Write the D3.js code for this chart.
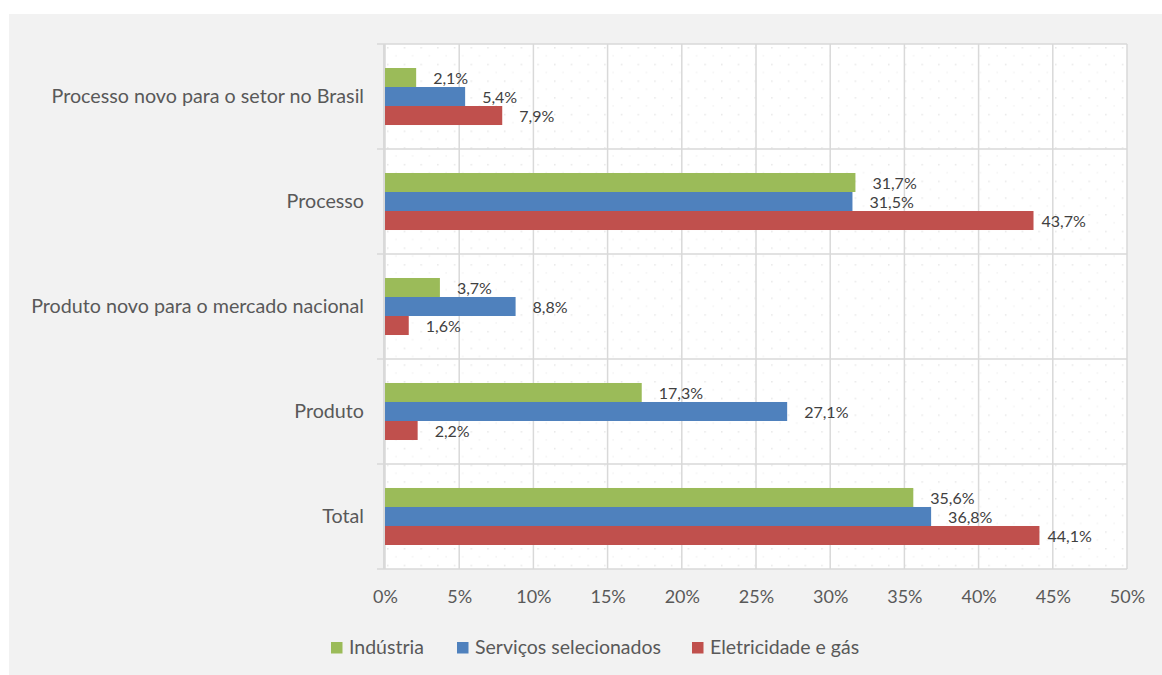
<!DOCTYPE html>
<html><head><meta charset="utf-8">
<script src="https://cdn.jsdelivr.net/npm/d3@7"></script>
<style>
body{margin:0;background:#fff;}
svg{display:block;}
</style></head>
<body><svg id="c" width="1162" height="675"></svg>
<script>
const categories = ["Processo novo para o setor no Brasil","Processo","Produto novo para o mercado nacional","Produto","Total"];
const seriesNames = ["Indústria","Serviços selecionados","Eletricidade e gás"];
const industria = [2.1, 31.7, 3.7, 17.3, 35.6];
const servicos = [5.4, 31.5, 8.8, 27.1, 36.8];
const eletricidade = [7.9, 43.7, 1.6, 2.2, 44.1];
const tickValues = [0,5,10,15,20,25,30,35,40,45,50];
const colors = ["#9bbb59","#4f81bd","#c0504d"];
const seriesValues = [industria, servicos, eletricidade];

const svg = d3.select("#c");
const FONT = "Lato, 'Open Sans', sans-serif";
svg.append("rect").attr("x",9).attr("y",14).attr("width",1153).attr("height",661).attr("fill","#f2f2f2");

const L=385,R=1127,T=44,B=569;
const x = d3.scaleLinear().domain([0,50]).range([L,R]);
const y = d3.scaleBand().domain(categories).range([T,B]).paddingInner(0.457).paddingOuter(0.2286);
const ys = d3.scaleBand().domain(seriesNames).range([0,y.bandwidth()]);

const defs = svg.append("defs");
const pat = defs.append("pattern").attr("id","dots").attr("patternUnits","userSpaceOnUse")
  .attr("width",16.7).attr("height",16.7).attr("x",L+2).attr("y",T+3);
pat.append("rect").attr("width",16.7).attr("height",16.7).attr("fill","#fff");
pat.append("rect").attr("x",0).attr("y",0).attr("width",1.5).attr("height",1.5).attr("fill","#e8e8e8");
pat.append("rect").attr("x",8.3).attr("y",8.3).attr("width",1.5).attr("height",1).attr("fill","#eeeeee");
svg.append("rect").attr("x",L).attr("y",T).attr("width",R-L).attr("height",B-T).attr("fill","url(#dots)");

// vertical gridlines
svg.append("g").selectAll("line").data(tickValues).join("line")
  .attr("x1",d=>x(d)).attr("x2",d=>x(d)).attr("y1",T).attr("y2",B)
  .attr("stroke","#d9d9d9").attr("stroke-width",1.5);
// horizontal category lines
const bounds = d3.range(categories.length+1).map(i=>T+i*y.step());
svg.append("g").selectAll("line").data(bounds).join("line")
  .attr("x1",L-8).attr("x2",R).attr("y1",d=>d).attr("y2",d=>d)
  .attr("stroke","#d9d9d9").attr("stroke-width",1.5);
svg.append("line").attr("x1",L-1).attr("x2",L-1).attr("y1",T).attr("y2",B).attr("stroke","#d9d9d9").attr("stroke-width",2);

// bars
seriesNames.forEach((s,si)=>{
  const g = svg.append("g");
  const vals = seriesValues[si];
  g.selectAll("rect").data(categories).join("rect")
    .attr("x",L).attr("y",(c)=>y(c)+ys(s)).attr("width",(c,i)=>x(vals[i])-L)
    .attr("height",ys.bandwidth()).attr("fill",colors[si]);
  g.selectAll("text").data(categories).join("text")
    .attr("x",(c,i)=>x(vals[i])+(vals[i]>40?8:17)).attr("y",(c)=>y(c)+ys(s)+ys.bandwidth()/2+1)
    .attr("dy","0.35em").attr("font-family",FONT).attr("font-size",16).attr("fill","#404040")
    .text((c,i)=>d3.format(".1f")(vals[i]).replace(".",",")+"%");
});

// x axis labels
const xa = svg.append("g").attr("transform",`translate(0,${B})`)
  .call(d3.axisBottom(x).tickValues(tickValues).tickSize(0).tickPadding(21).tickFormat(d=>d+"%"));
xa.select(".domain").remove();
xa.selectAll("text").attr("font-family",FONT).attr("font-size",18).attr("fill","#595959");

// y axis labels
const ya = svg.append("g").attr("transform",`translate(${L-21},0)`)
  .call(d3.axisLeft(y).tickSize(0).tickPadding(0));
ya.select(".domain").remove();
ya.selectAll("text").attr("font-family",FONT).attr("font-size",19.7).attr("fill","#595959").attr("dy","0.35em");

// legend
const legX = [331,457,692];
const lg = svg.append("g").selectAll("g").data(seriesNames).join("g")
  .attr("transform",(d,i)=>`translate(${legX[i]},642)`);
lg.append("rect").attr("width",11.5).attr("height",11.5).attr("fill",(d,i)=>colors[i]);
lg.append("text").attr("x",18).attr("y",5.5).attr("dy","0.35em").attr("font-family",FONT).attr("font-size",19.5).attr("fill","#595959").text(d=>d);
</script></body></html>
